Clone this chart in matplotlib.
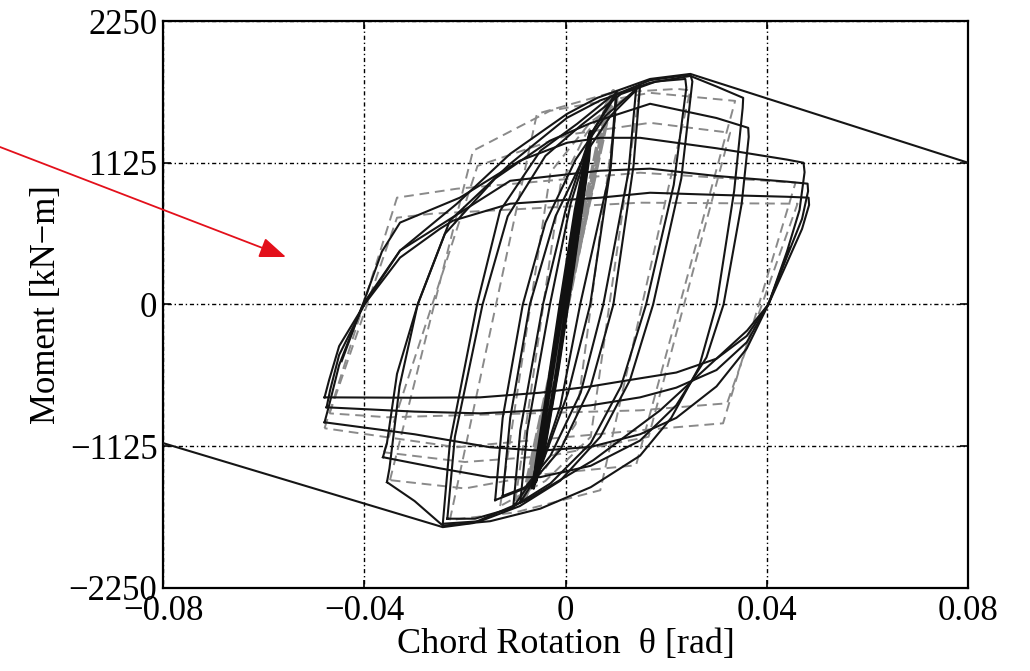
import numpy as np
import matplotlib
matplotlib.use("Agg")
import matplotlib.pyplot as plt

plt.rcParams['font.family'] = ['Liberation Serif', 'DejaVu Serif']
plt.rcParams['axes.unicode_minus'] = True

# ---- data (rotation [rad], moment [kN-m]) ----
xticks = [-0.08, -0.04, 0, 0.04, 0.08]
xtick_labels = ['\u22120.08', '\u22120.04', '0', '0.04', '0.08']
yticks = [-2250, -1125, 0, 1125, 2250]
ytick_labels = ['\u22122250', '\u22121125', '0', '1125', '2250']

# final pushes out to +/-0.08 (solid)
push_pos_x = [-0.0445, -0.0403, -0.0329, -0.0216, -0.0110, 0.0003, 0.0063, 0.0168, 0.0248, 0.0800]
push_pos_y = [-450, 0, 428, 800, 1196, 1513, 1640, 1790, 1830, 1125]
push_neg_x = [0.0445, 0.0403, 0.0361, 0.0188, 0.0055, -0.0078, -0.0184, -0.0244, -0.0800]
push_neg_y = [450, 0, -206, -840, -1236, -1553, -1735, -1767, -1100]

# solid loops
s1a_x = [-0.0065, -0.0040, -0.0010, 0.0020, 0.0050, 0.0045, 0.0015, -0.0015, -0.0045, -0.0065]
s1a_y = [-1450, -800, 0, 750, 1370, 1150, 300, -500, -1200, -1450]
s1b_x = [-0.0060, -0.0035, -0.0005, 0.0022, 0.0048, 0.0042, 0.0012, -0.0018, -0.0048, -0.0060]
s1b_y = [-1400, -750, 0, 700, 1340, 1100, 250, -550, -1250, -1400]
s2a_x = [-0.0104, -0.0090, -0.0045, 0.0000, 0.0050, 0.0102, 0.0090, 0.0049, 0.0005, -0.0050, -0.0104]
s2a_y = [-1608, -1000, 0, 750, 1350, 1696, 1100, 0, -700, -1300, -1608]
s2b_x = [-0.0090, -0.0076, -0.0031, 0.0010, 0.0055, 0.0100, 0.0088, 0.0029, -0.0010, -0.0055, -0.0090]
s2b_y = [-1570, -1000, 0, 800, 1380, 1660, 1050, 0, -800, -1350, -1570]
s3a_x = [-0.0140, -0.0125, -0.0085, -0.0040, 0.0020, 0.0080, 0.0148, 0.0135, 0.0095, 0.0050, -0.0010, -0.0075, -0.0140]
s3a_y = [-1553, -900, 0, 650, 1150, 1500, 1735, 1100, 0, -650, -1150, -1450, -1553]
s3b_x = [-0.0125, -0.0110, -0.0071, -0.0020, 0.0040, 0.0090, 0.0140, 0.0125, 0.0075, 0.0030, -0.0030, -0.0080, -0.0125]
s3b_y = [-1520, -900, 0, 700, 1200, 1500, 1700, 1050, 0, -700, -1200, -1450, -1520]
s4a_x = [-0.0244, -0.0230, -0.0176, -0.0130, -0.0050, 0.0023, 0.0090, 0.0168, 0.0248, 0.0252, 0.0230,
         0.0174, 0.0128, 0.0069, -0.0011, -0.0091, -0.0170, -0.0244]
s4a_y = [-1740, -1100, 0, 745, 1220, 1434, 1650, 1780, 1825, 1770, 1000,
         0, -600, -1050, -1400, -1600, -1720, -1740]
s4b_x = [-0.0235, -0.0220, -0.0165, -0.0115, -0.0040, 0.0030, 0.0110, 0.0180, 0.0238, 0.0240, 0.0215,
         0.0160, 0.0110, 0.0050, -0.0030, -0.0110, -0.0180, -0.0235]
s4b_y = [-1700, -1050, 0, 700, 1180, 1420, 1670, 1770, 1790, 1720, 950,
         0, -650, -1100, -1420, -1620, -1700, -1700]
s5a_x = [-0.0355, -0.0350, -0.0330, -0.0294, -0.0230, -0.0110, 0.0003, 0.0069, 0.0168, 0.0248,
         0.0300, 0.0353, 0.0352, 0.0335, 0.0300, 0.0265, 0.0210, 0.0148, 0.0050, -0.0050, -0.0150,
         -0.0244, -0.0300, -0.0355]
s5a_y = [-1410, -1300, -650, 0, 665, 1117, 1482, 1620, 1760, 1814,
         1730, 1640, 1560, 900, 0, -500, -900, -1200, -1450, -1620, -1720,
         -1755, -1560, -1410]
s5b_x = [-0.0363, -0.0355, -0.0335, -0.0294, -0.0240, -0.0140, -0.0031, 0.0050, 0.0168, 0.0300, 0.0363,
         0.0364, 0.0350, 0.0314, 0.0280, 0.0220, 0.0148, 0.0050, -0.0050, -0.0150, -0.0250, -0.0363]
s5b_y = [-1212, -1100, -550, 0, 560, 1000, 1300, 1440, 1593, 1480, 1402,
         1330, 800, 0, -420, -800, -1080, -1280, -1370, -1371, -1300, -1212]
s6a_x = [-0.0479, -0.0470, -0.0450, -0.0403, -0.0365, -0.0329, -0.0210, -0.0091, 0.0003, 0.0069, 0.0148,
         0.0300, 0.0440, 0.0473, 0.0475, 0.0465, 0.0440, 0.0403, 0.0360, 0.0300, 0.0220, 0.0148,
         0.0050, -0.0050, -0.0150, -0.0300, -0.0479]
s6a_y = [-935, -800, -480, 0, 420, 650, 848, 1141, 1284, 1323, 1323,
         1240, 1150, 1125, 1050, 750, 420, 0, -350, -650, -900, -1030,
         -1130, -1160, -1133, -1030, -935]
s6b_x = [-0.0475, -0.0468, -0.0450, -0.0400, -0.0329, -0.0244, -0.0110, 0.0069, 0.0168,
         0.0300, 0.0440, 0.0481, 0.0482, 0.0470, 0.0440, 0.0403, 0.0360, 0.0300, 0.0220, 0.0148,
         0.0050, -0.0050, -0.0170, -0.0300, -0.0475]
s6b_y = [-816, -680, -400, 0, 428, 642, 982, 1062, 1078,
         1020, 975, 959, 900, 680, 380, 0, -300, -520, -660, -737,
         -800, -840, -864, -850, -816]
s6c_x = [-0.0479, -0.0470, -0.0450, -0.0400, -0.0329, -0.0250, -0.0224, -0.0110, 0.0069, 0.0168,
         0.0300, 0.0440, 0.0483, 0.0484, 0.0470, 0.0440, 0.0403, 0.0360, 0.0300, 0.0220, 0.0148,
         0.0050, -0.0050, -0.0170, -0.0300, -0.0479]
s6c_y = [-737, -600, -330, 0, 372, 600, 665, 800, 848, 887,
         870, 855, 848, 790, 600, 330, 0, -250, -430, -540, -586,
         -650, -700, -737, -740, -737]

# dashed loops
d1a_x = [-0.0085, 0.0085, 0.0095, -0.0075, -0.0085]
d1a_y = [-1553, 1600, 1696, -1450, -1553]
d1b_x = [-0.0080, 0.0078, 0.0090, -0.0068, -0.0080]
d1b_y = [-1530, 1560, 1660, -1420, -1530]
d2_x = [-0.0100, -0.0010, 0.0040, 0.0105, 0.0020, -0.0040, -0.0100]
d2_y = [-1560, 950, 1350, 1690, -950, -1300, -1560]
d3_x = [-0.0130, -0.0030, 0.0050, 0.0148, 0.0050, -0.0040, -0.0130]
d3_y = [-1600, 1050, 1450, 1720, -1050, -1400, -1600]
d4_x = [-0.0230, -0.0057, 0.0090, 0.0222, 0.0248, 0.0069, -0.0100, -0.0230]
d4_y = [-1711, 1513, 1680, 1711, 1700, -1474, -1650, -1711]
d5a_x = [-0.0349, -0.0184, -0.0031, 0.0168, 0.0337, 0.0140, -0.0050, -0.0200, -0.0349]
d5a_y = [-1394, 1220, 1537, 1680, 1616, -1276, -1350, -1460, -1394]
d5b_x = [-0.0361, -0.0175, 0.0009, 0.0168, 0.0327, 0.0165, -0.0030, -0.0200, -0.0361]
d5b_y = [-1173, 1100, 1350, 1442, 1363, -1050, -1200, -1250, -1173]
d6a_x = [-0.0479, -0.0335, -0.0216, 0.0148, 0.0457, 0.0313, 0.0148, -0.0216, -0.0479]
d6a_y = [-982, 848, 919, 1046, 967, -943, -998, -1133, -982]
d6b_x = [-0.0469, -0.0335, -0.0264, 0.0148, 0.0461, 0.0321, 0.0148, -0.0353, -0.0469]
d6b_y = [-864, 689, 721, 808, 800, -784, -840, -895, -864]

band_loops = [(s1a_x, s1a_y), (s1b_x, s1b_y)]
solid_loops = [(s2a_x, s2a_y), (s2b_x, s2b_y),
               (s3a_x, s3a_y), (s3b_x, s3b_y), (s4a_x, s4a_y), (s4b_x, s4b_y),
               (s5a_x, s5a_y), (s5b_x, s5b_y), (s6a_x, s6a_y), (s6b_x, s6b_y),
               (s6c_x, s6c_y), (push_pos_x, push_pos_y), (push_neg_x, push_neg_y)]
gray_band = [(d1a_x, d1a_y), (d1b_x, d1b_y)]
dashed_loops = [(d2_x, d2_y), (d3_x, d3_y), (d4_x, d4_y),
                (d5a_x, d5a_y), (d5b_x, d5b_y), (d6a_x, d6a_y), (d6b_x, d6b_y)]

fig = plt.figure(figsize=(10.3, 6.71), dpi=100)
ax = fig.add_axes([0.1583, 0.1237, 0.7816, 0.845])

for lx, ly in gray_band:
    ax.plot(lx, ly, color='#8a8a8a', lw=2.6, dashes=(4, 1), zorder=2)
for lx, ly in dashed_loops:
    ax.plot(lx, ly, color='#8a8a8a', lw=1.4, dashes=(5, 3), zorder=2)
for lx, ly in solid_loops:
    ax.plot(lx, ly, color='#151515', lw=1.5, zorder=3, solid_joinstyle='round')
for lx, ly in band_loops:
    ax.plot(lx, ly, color='#111111', lw=2.8, zorder=3, solid_joinstyle='round')

ax.set_xlim(-0.08, 0.08)
ax.set_ylim(-2250, 2250)
ax.set_xticks(xticks)
ax.set_xticklabels(xtick_labels)
ax.set_yticks(yticks)
ax.set_yticklabels(ytick_labels)
ax.grid(True, color='black', lw=1.0, linestyle=(0, (1, 2, 3, 2)), zorder=1)
ax.tick_params(direction='in', length=6, width=1.2, top=True, right=True,
               labelsize=25, pad=5)
ax.tick_params(axis='y', pad=4)
for sp in ax.spines.values():
    sp.set_linewidth(1.6)

ax.set_xlabel('Chord Rotation  \u03b8 [rad]', fontsize=26, labelpad=0)
ax.set_ylabel('Moment [kN\u2212m]', fontsize=25, labelpad=4)

# red pointer arrow
ax.annotate('', xy=(286 / 1030, 1 - 257 / 671), xytext=(0.0, 1 - 147 / 671),
            xycoords='figure fraction', textcoords='figure fraction',
            arrowprops=dict(arrowstyle='-|>,head_length=0.65,head_width=0.25',
                            color='#e3101b', lw=1.3, mutation_scale=25,
                            shrinkA=0, shrinkB=0),
            annotation_clip=False)

fig.savefig('out.png', dpi=100)
